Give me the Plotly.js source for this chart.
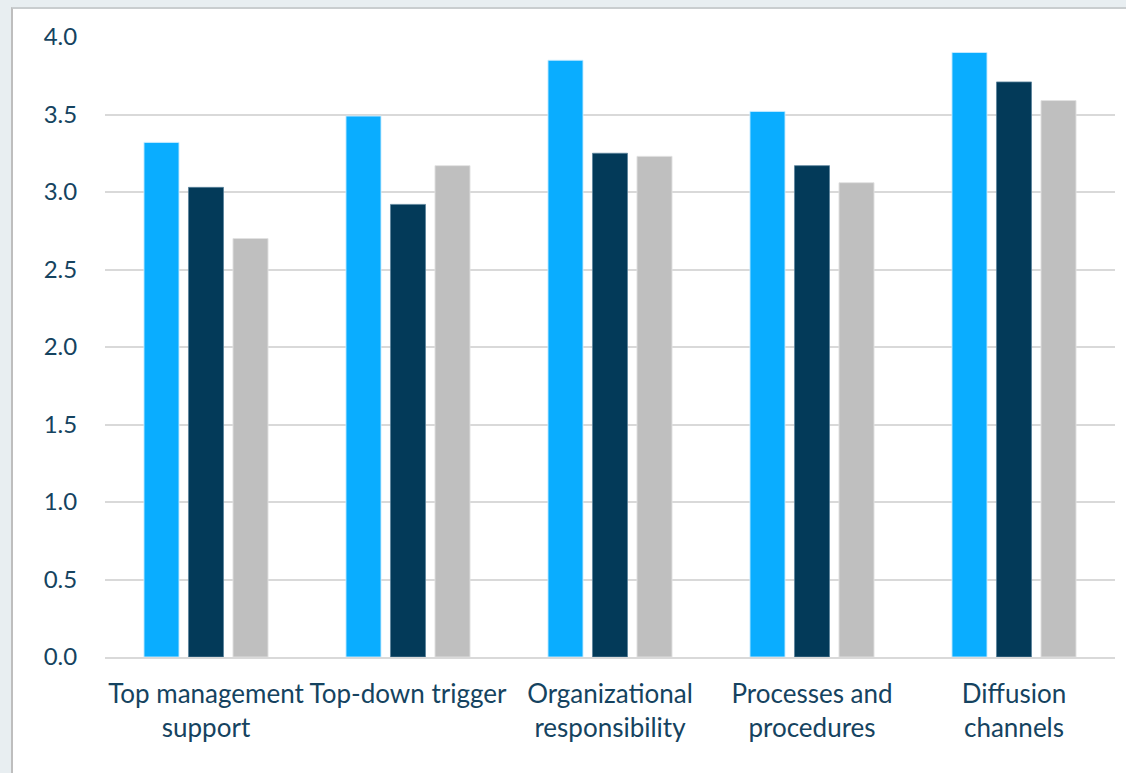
<!DOCTYPE html>
<html>
<head>
<meta charset="utf-8">
<script src="https://cdn.plot.ly/plotly-3.0.1.min.js"></script>
<style>
  html, body { margin: 0; padding: 0; background: #E8EEF1; width: 1126px; height: 773px; overflow: hidden; }
  #panel { position: absolute; left: 11px; top: 7px; width: 1115px; height: 766px; background: #ffffff;
           border-left: 2px solid #BEBEBE; border-top: 2px solid #C9CDCF; box-sizing: border-box; }
  #chart { position: absolute; left: 0; top: 0; width: 1126px; height: 773px; }
</style>
</head>
<body>
<div id="panel"></div>
<div id="chart"></div>
<script>
const categories = [
  "Top management<br>support",
  "Top-down trigger",
  "Organizational<br>responsibility",
  "Processes and<br>procedures",
  "Diffusion<br>channels"
];
const seriesA = [3.32, 3.49, 3.85, 3.52, 3.90];
const seriesB = [3.03, 2.92, 3.25, 3.17, 3.71];
const seriesC = [2.70, 3.17, 3.23, 3.06, 3.59];
const yTicks = [0, 0.5, 1, 1.5, 2, 2.5, 3, 3.5, 4];
const yTickLabels = ["0.0", "0.5", "1.0", "1.5", "2.0", "2.5", "3.0", "3.5", "4.0"];

const colors = ["#0AADFF", "#033A59", "#BFBFBF"];
const edge = ["rgba(200,235,255,0.9)", "rgba(90,130,155,0.8)", "rgba(225,225,225,0.9)"];
const data = [seriesA, seriesB, seriesC].map((vals, i) => ({
  type: "bar",
  x: categories,
  y: vals,
  name: "Series " + (i + 1),
  marker: { color: colors[i], line: { color: edge[i], width: 1 } },
  hoverinfo: "x+y"
}));

const textColor = "#154360";
const layout = {
  width: 1126, height: 773,
  margin: { l: 105, r: 11, t: 37, b: 116 },
  paper_bgcolor: "rgba(0,0,0,0)",
  plot_bgcolor: "rgba(0,0,0,0)",
  showlegend: false,
  barmode: "group",
  bargap: 0.339,
  bargroupgap: 0.213,
  font: { family: "Lato, 'Open Sans', sans-serif", color: textColor, size: 24 },
  xaxis: {
    type: "category",
    range: [-0.5, 4.5],
    showgrid: false,
    showline: true, linecolor: "#D9D9D9", linewidth: 2,
    ticks: "outside", ticklen: 13, tickcolor: "rgba(0,0,0,0)",
    tickfont: { size: 26, color: textColor },
    fixedrange: true
  },
  yaxis: {
    range: [0, 4],
    tickvals: yTicks,
    ticktext: yTickLabels,
    showgrid: true, gridcolor: "#D9D9D9", gridwidth: 2,
    zeroline: false,
    showline: false,
    ticks: "outside", ticklen: 22, tickcolor: "rgba(0,0,0,0)",
    tickfont: { size: 24, color: textColor },
    fixedrange: true
  }
};

Plotly.newPlot("chart", data, layout, { displayModeBar: false, staticPlot: true });
</script>
</body>
</html>
